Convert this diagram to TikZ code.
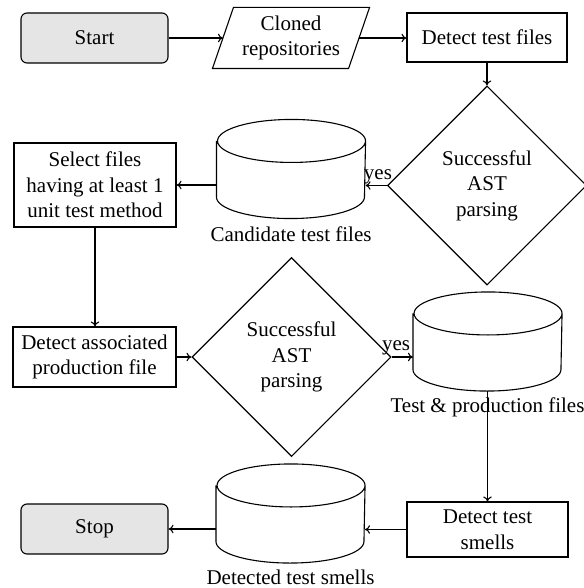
\documentclass[tikz,border=0pt]{standalone}
\usepackage{fontspec}
\setmainfont{Liberation Serif}
\usetikzlibrary{shapes.geometric,arrows.meta}
\begin{document}
\begin{tikzpicture}[x=1pt,y=-1pt,
  font=\fontsize{21pt}{25.5pt}\selectfont,
  line width=1.1pt, >={To[length=5pt,width=8.5pt]},
  box/.style={draw, align=center, inner sep=0pt},
  term/.style={box, rounded corners=6pt, fill=gray!20, minimum width=147pt, minimum height=50pt},
  proc/.style={box, minimum width=162pt},
  dec/.style={draw, diamond, align=center, inner sep=0pt, minimum width=199pt, minimum height=199pt},
  db/.style={minimum width=148pt, minimum height=98pt, inner sep=0pt},
  lbl/.style={anchor=base, inner sep=0pt},
  arr/.style={->}]
\useasboundingbox (0,0) rectangle (583,588);

\node[term] (start) at (94.5,38) {Start};
\node[minimum width=135pt, minimum height=60pt, inner sep=0pt, align=center] (cloned) at (291,38) {Cloned\\repositories};
\node[proc, minimum width=160pt, minimum height=49pt] (detect) at (487,37.5) {Detect test files};
\node[dec] (dec1) at (487,185.5) {Successful\\AST\\parsing};
\node[db] (cand) at (291,169) {};
\node[proc, minimum height=84pt] (select) at (95,185) {Select files\\having at least 1\\unit test method};
\node[proc, minimum width=163pt, minimum height=60pt] (assoc) at (94.5,357) {Detect associated\\production file};
\node[dec] (dec2) at (291.5,357) {Successful\\AST\\parsing};
\node[db] (tp) at (487.5,341.5) {};
\node[proc, minimum width=161pt, minimum height=55pt] (smells) at (487.5,529.5) {Detect test\\smells};
\node[db] (det) at (290.5,513.5) {};
\node[term] (stop) at (94.5,529) {Stop};

% parallelogram
\draw ([xshift=-10.5pt]cloned.south west) -- ([xshift=-10.5pt]cloned.south east)
  -- ([xshift=10.5pt]cloned.north east) -- ([xshift=10.5pt]cloned.north west) -- cycle;

% cylinders
\foreach \n in {cand,tp,det}{
  \draw ([yshift=-21.5pt]\n.north west) -- ([yshift=21.5pt]\n.south west)
    arc[start angle=180, end angle=360, x radius=74pt, y radius=21.5pt]
    -- ([yshift=-21.5pt]\n.north east)
    arc[start angle=0, end angle=180, x radius=74pt, y radius=21.5pt]
    arc[start angle=180, end angle=360, x radius=74pt, y radius=21.5pt];
}

% labels
\node[lbl] (candl) at ([yshift=-22.5pt]cand.south) {Candidate test files};
\node[lbl] (tpl) at ([yshift=-21pt]tp.south) {Test \& production files};
\node[lbl] (detl) at ([yshift=-21pt]det.south) {Detected test smells};
\node[lbl] (yes1) at ([xshift=-9pt,yshift=6pt]dec1.west) {yes};
\node[lbl] (yes2) at ([xshift=4.5pt,yshift=7pt]dec2.east) {yes};

% connectors
\draw[arr] (start) -- (cloned);
\draw[arr] (cloned.east) -- (cloned.east -| detect.west);
\draw[arr] (detect) -- (dec1);
\draw[arr] (dec1.west) -- (dec1.west -| cand.east);
\draw[arr] (select.east -| cand.west) -- (select.east);
\draw[arr] (select.south) -- (select.south |- assoc.north);
\draw[arr] (assoc) -- (dec2);
\draw[arr] (dec2.east) -- (dec2.east -| tp.west);
\draw[arr] (tp.south) -- (tp.south |- smells.north);
\draw[arr] (smells.west) -- (smells.west -| det.east);
\draw[arr] (stop.east -| det.west) -- (stop.east);
\end{tikzpicture}
\end{document}
